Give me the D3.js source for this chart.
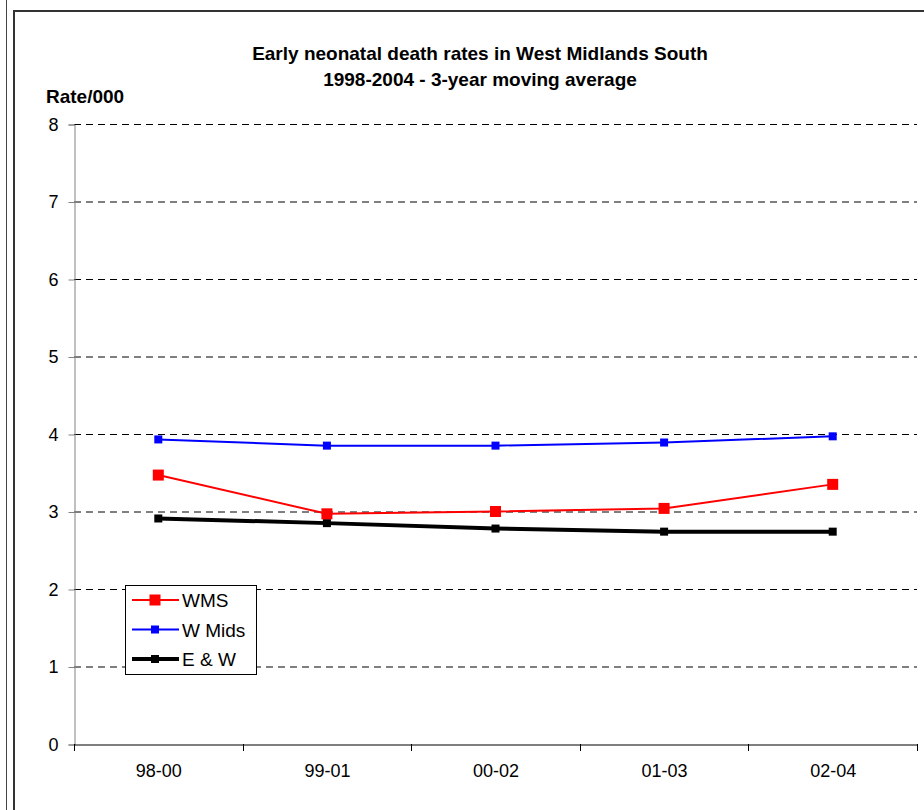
<!DOCTYPE html>
<html><head><meta charset="utf-8">
<script src="https://cdn.jsdelivr.net/npm/d3@7/dist/d3.min.js"></script>
<style>body{margin:0;background:#fff;}svg{display:block;font-family:Arial,"Liberation Sans",sans-serif;}</style>
</head><body>
<script>
const categories = ["98-00","99-01","00-02","01-03","02-04"];
const wms   = [3.47, 2.97, 3.00, 3.04, 3.35];
const wmids = [3.93, 3.85, 3.85, 3.89, 3.97];
const ew    = [2.91, 2.85, 2.78, 2.74, 2.74];
const yTicks = [0,1,2,3,4,5,6,7,8];
const series = [
  {name:"WMS", values:wms, color:"#ff0000", width:2, size:11},
  {name:"W Mids", values:wmids, color:"#0000ff", width:2, size:8},
  {name:"E & W", values:ew, color:"#000000", width:4, size:8}
];

(function(){
const W=924,H=810;
const svg=d3.select("body").append("svg").attr("width",W).attr("height",H);
// outer frame lines
svg.append("line").attr("x1",6.5).attr("x2",6.5).attr("y1",0).attr("y2",H).attr("stroke","#444").attr("stroke-width",1);
svg.append("rect").attr("x",14).attr("y",11).attr("width",W+10).attr("height",H+10).attr("fill","none").attr("stroke","#333").attr("stroke-width",2);

const pLeft=74,pRight=917,pTop=124,pBottom=744;
const x=d3.scaleBand().domain(categories).range([pLeft,pRight]);
const y=d3.scaleLinear().domain([0,8]).range([pBottom,pTop]);

// gridlines
svg.append("g").selectAll("line").data(yTicks.filter(d=>d>0)).join("line")
  .attr("x1",pLeft).attr("x2",pRight).attr("y1",d=>y(d)+0.5).attr("y2",d=>y(d)+0.5)
  .attr("stroke","#000").attr("stroke-width",1).attr("stroke-dasharray","7,5");

// y axis
const ya=svg.append("g").attr("transform",`translate(${pLeft+0.5},0.5)`)
  .call(d3.axisLeft(y).tickValues(yTicks).tickSize(6).tickPadding(10).tickFormat(d3.format("d")));
ya.select(".domain").attr("stroke","#808080");
ya.selectAll(".tick line").attr("stroke","#808080");
ya.selectAll("text").attr("font-size",18).attr("fill","#000").attr("font-family","Arial,'Liberation Sans',sans-serif");

// x axis
const xa=svg.append("g").attr("transform",`translate(0.5,${pBottom+0.5})`)
  .call(d3.axisBottom(x).tickSize(0).tickPadding(20));
xa.select(".domain").attr("stroke","#000");
xa.selectAll("text").attr("font-size",18).attr("fill","#000").attr("font-family","Arial,'Liberation Sans',sans-serif");
const bounds=categories.map(c=>x(c)).concat([pRight]);
svg.append("g").selectAll("line").data(bounds).join("line")
  .attr("x1",d=>Math.round(d)+0.5).attr("x2",d=>Math.round(d)+0.5).attr("y1",pBottom).attr("y2",pBottom+7)
  .attr("stroke","#000");

// series
const cx=c=>x(c)+x.bandwidth()/2;
const line=d3.line().x((d,i)=>cx(categories[i])).y(d=>y(d));
series.slice().reverse().forEach(s=>{
  const g=svg.append("g");
  g.append("path").datum(s.values).attr("d",line).attr("fill","none").attr("stroke",s.color).attr("stroke-width",s.width);
  g.selectAll("rect").data(s.values).join("rect")
    .attr("x",(d,i)=>cx(categories[i])-s.size/2).attr("y",d=>y(d)-s.size/2)
    .attr("width",s.size).attr("height",s.size).attr("fill",s.color);
});

// title
svg.append("text").attr("x",480).attr("y",60).attr("text-anchor","middle").attr("font-size",19).attr("font-weight","bold").text("Early neonatal death rates in West Midlands South");
svg.append("text").attr("x",480).attr("y",86).attr("text-anchor","middle").attr("font-size",19).attr("font-weight","bold").text("1998-2004 - 3-year moving average");
svg.append("text").attr("x",46).attr("y",103).attr("font-size",19).attr("font-weight","bold").text("Rate/000");

// legend
const lg=svg.append("g");
lg.append("rect").attr("x",125.5).attr("y",585.5).attr("width",131).attr("height",89).attr("fill","#fff").attr("stroke","#000");
series.forEach((s,i)=>{
  const yy=600+i*29.5;
  lg.append("line").attr("x1",132).attr("x2",179).attr("y1",yy).attr("y2",yy).attr("stroke",s.color).attr("stroke-width",s.width);
  lg.append("rect").attr("x",155-s.size/2).attr("y",yy-s.size/2).attr("width",s.size).attr("height",s.size).attr("fill",s.color);
  lg.append("text").attr("x",182).attr("y",yy+7).attr("font-size",19).text(s.name);
});
})();
</script>
</body></html>
